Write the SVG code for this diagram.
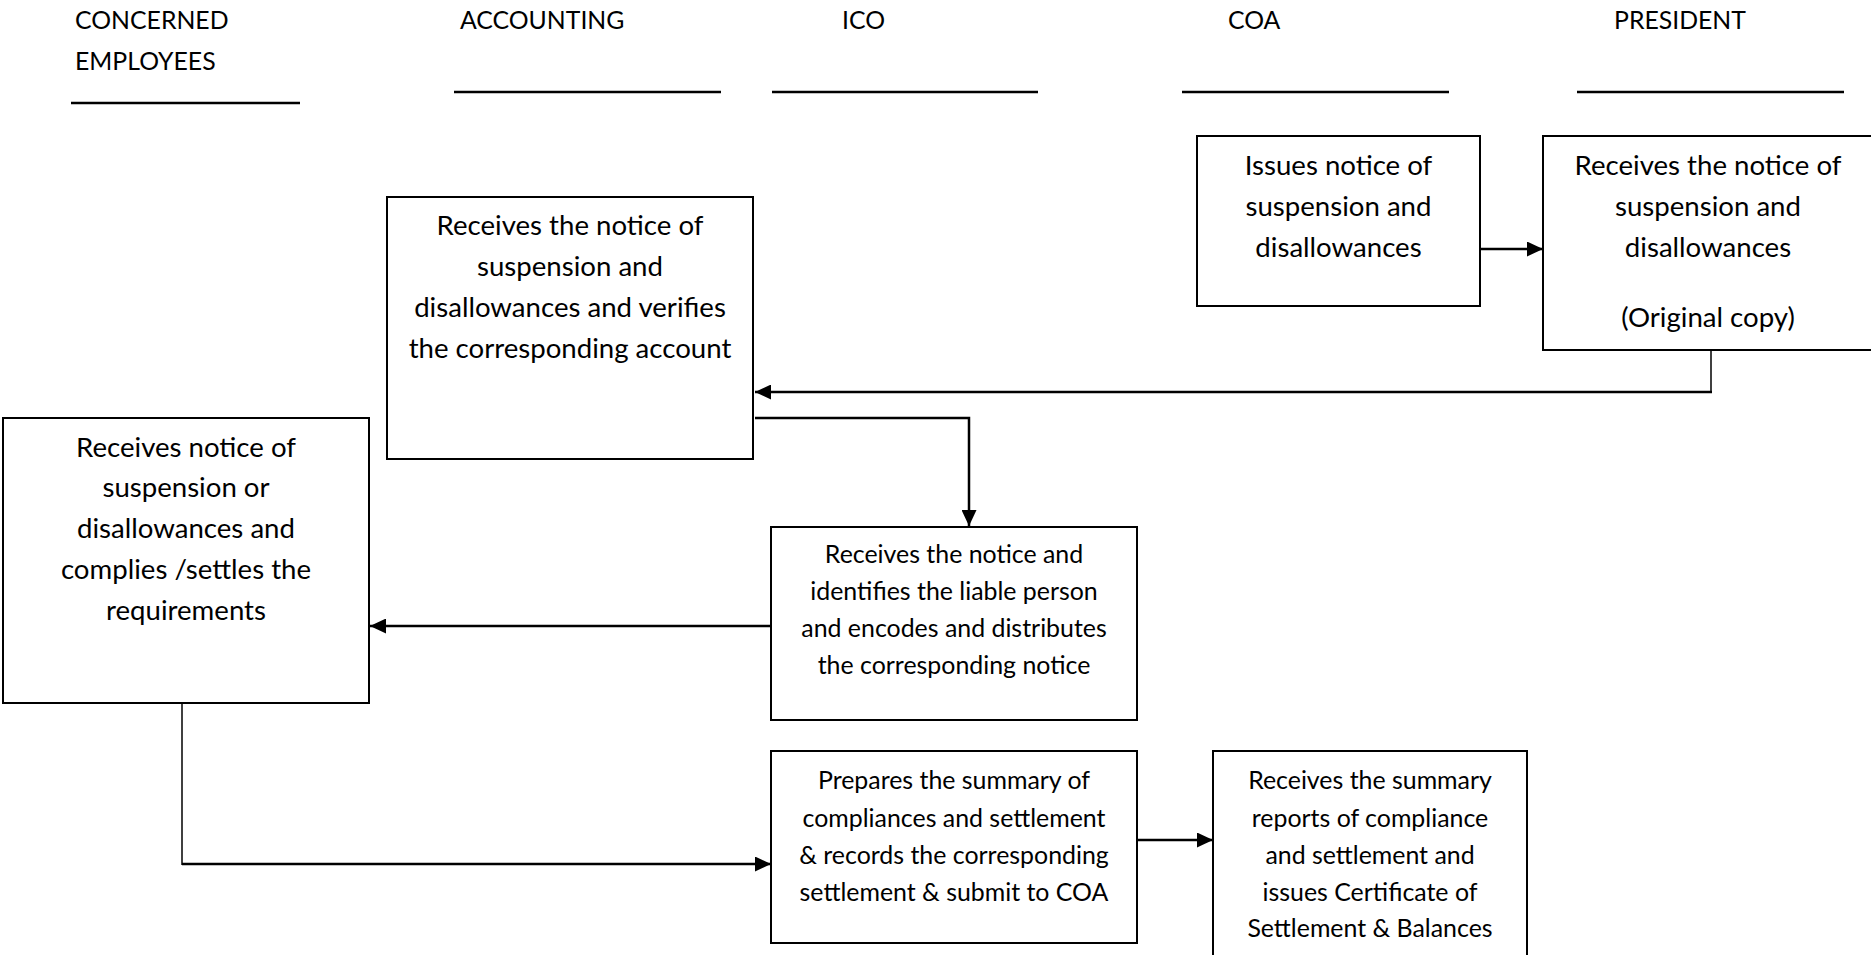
<svg xmlns="http://www.w3.org/2000/svg" width="1871" height="955" viewBox="0 0 1871 955">
  <style>
    .bg { fill: #ffffff; }
    .box { fill: #ffffff; stroke: #000000; stroke-width: 2; }
    .rule { stroke: #000000; stroke-width: 2.5; fill: none; }
    .head { font-family: Lato, "Liberation Sans", sans-serif; font-size: 24.8px; fill: #000000; }
    .t { font-family: Lato, "Liberation Sans", sans-serif; font-size: 27.6px; fill: #000000; text-anchor: middle; }
    .s { font-family: Lato, "Liberation Sans", sans-serif; font-size: 24.9px; fill: #000000; text-anchor: middle; }
    .link { stroke: #000000; stroke-width: 2.5; fill: none; }
    .thin { stroke: #000000; stroke-width: 1.5; fill: none; }
  </style>
  <defs>
    <marker id="arrow" viewBox="0 0 16 15" refX="16" refY="7.5" markerWidth="16" markerHeight="15" markerUnits="userSpaceOnUse" orient="auto">
      <path d="M0,0 L16,7.5 L0,15 Z" fill="#000000"/>
    </marker>
  </defs>

  <rect class="bg" x="0" y="0" width="1871" height="955"/>

  <!-- Column headings -->
  <g id="headings">
    <text class="head" x="75" y="29">CONCERNED</text>
    <text class="head" x="75" y="70">EMPLOYEES</text>
    <text class="head" x="460" y="29">ACCOUNTING</text>
    <text class="head" x="842" y="29">ICO</text>
    <text class="head" x="1228" y="29">COA</text>
    <text class="head" x="1614" y="29">PRESIDENT</text>
    <line class="rule" x1="71" y1="103" x2="300" y2="103"/>
    <line class="rule" x1="454" y1="92" x2="721" y2="92"/>
    <line class="rule" x1="772" y1="92" x2="1038" y2="92"/>
    <line class="rule" x1="1182" y1="92" x2="1449" y2="92"/>
    <line class="rule" x1="1577" y1="92" x2="1844" y2="92"/>
  </g>

  <!-- Connectors -->
  <g id="connectors">
    <line class="link" x1="1480" y1="249" x2="1543" y2="249" marker-end="url(#arrow)"/>
    <line class="thin" x1="1711" y1="351" x2="1711" y2="392"/>
    <line class="link" x1="1712" y1="392" x2="755" y2="392" marker-end="url(#arrow)"/>
    <polyline class="link" points="755,418 969,418 969,526" marker-end="url(#arrow)"/>
    <line class="link" x1="771" y1="626" x2="370" y2="626" marker-end="url(#arrow)"/>
    <line class="thin" x1="182" y1="703" x2="182" y2="865"/>
    <line class="link" x1="182" y1="864" x2="771" y2="864" stroke-width="3" marker-end="url(#arrow)"/>
    <line class="link" x1="1137" y1="840" x2="1213" y2="840" stroke-width="3" marker-end="url(#arrow)"/>
  </g>

  <!-- Process steps -->
  <g id="coa-issue">
    <rect class="box" x="1197" y="136" width="283" height="170"/>
    <text class="t" x="1338.5" y="175">Issues notice of</text>
    <text class="t" x="1338.5" y="216">suspension and</text>
    <text class="t" x="1338.5" y="257">disallowances</text>
  </g>

  <g id="president-receive">
    <rect class="box" x="1543" y="136" width="340" height="214"/>
    <text class="t" x="1708" y="175">Receives the notice of</text>
    <text class="t" x="1708" y="216">suspension and</text>
    <text class="t" x="1708" y="257">disallowances</text>
    <text class="t" x="1708" y="327">(Original copy)</text>
  </g>

  <g id="accounting-verify">
    <rect class="box" x="387" y="197" width="366" height="262"/>
    <text class="t" x="570" y="235">Receives the notice of</text>
    <text class="t" x="570" y="276">suspension and</text>
    <text class="t" x="570" y="317">disallowances and verifies</text>
    <text class="t" x="570" y="358">the corresponding account</text>
  </g>

  <g id="employees-comply">
    <rect class="box" x="3" y="418" width="366" height="285"/>
    <text class="t" x="186" y="457">Receives notice of</text>
    <text class="t" x="186" y="497">suspension or</text>
    <text class="t" x="186" y="538">disallowances and</text>
    <text class="t" x="186" y="579">complies /settles the</text>
    <text class="t" x="186" y="620">requirements</text>
  </g>

  <g id="ico-distribute">
    <rect class="box" x="771" y="527" width="366" height="193"/>
    <text class="s" x="954" y="563">Receives the notice and</text>
    <text class="s" x="954" y="600">identifies the liable person</text>
    <text class="s" x="954" y="637">and encodes and distributes</text>
    <text class="s" x="954" y="674">the corresponding notice</text>
  </g>

  <g id="ico-summary">
    <rect class="box" x="771" y="751" width="366" height="192"/>
    <text class="s" x="954" y="789">Prepares the summary of</text>
    <text class="s" x="954" y="827">compliances and settlement</text>
    <text class="s" x="954" y="864">&amp; records the corresponding</text>
    <text class="s" x="954" y="901">settlement &amp; submit to COA</text>
  </g>

  <g id="coa-certificate">
    <rect class="box" x="1213" y="751" width="314" height="230"/>
    <text class="s" x="1370" y="789">Receives the summary</text>
    <text class="s" x="1370" y="827">reports of compliance</text>
    <text class="s" x="1370" y="864">and settlement and</text>
    <text class="s" x="1370" y="901">issues Certificate of</text>
    <text class="s" x="1370" y="937">Settlement &amp; Balances</text>
  </g>
</svg>
